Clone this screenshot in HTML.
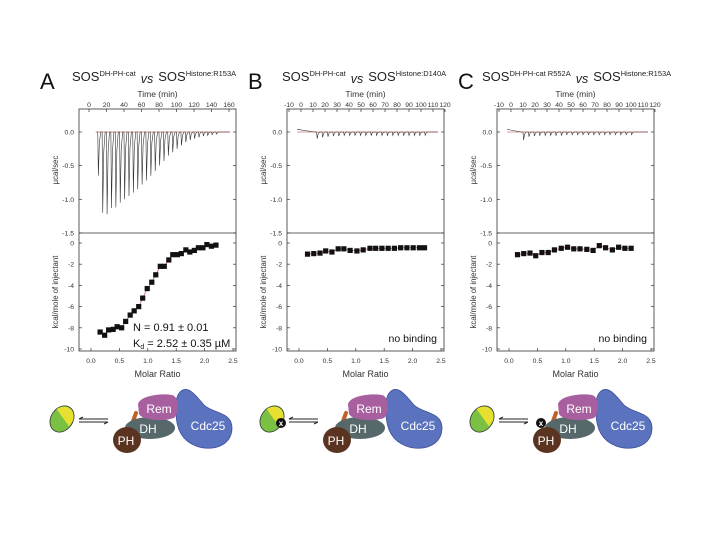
<!DOCTYPE html>
<html><head><meta charset="utf-8"><style>
body{margin:0;background:#fff}
svg{display:block;font-family:"Liberation Sans",sans-serif}
</style></head><body>
<svg id="fig" width="720" height="540" viewBox="0 0 720 540"></svg>
<script>
// ---- data ----
const rawTimesA=[10,15,20,25,30,35,40,45,50,55,60,65,70,75,80,85,90,95,100,105,110,115,120,125,130,135,140,145];
const rawPeaksA=[-0.65,-1.2,-1.22,-1.13,-1.12,-1.05,-1.0,-0.95,-0.9,-0.85,-0.78,-0.72,-0.65,-0.58,-0.5,-0.43,-0.35,-0.3,-0.25,-0.2,-0.15,-0.12,-0.1,-0.08,-0.06,-0.05,-0.04,-0.03];
const rawTimesB=[13,17.5,22,26.5,31,35.5,40,44.5,49,53.5,58,62.5,67,71.5,76,80.5,85,89.5,94,98.5,103];
const rawPeaksB=[-0.1,-0.08,-0.07,-0.06,-0.06,-0.05,-0.05,-0.05,-0.05,-0.05,-0.05,-0.05,-0.05,-0.05,-0.05,-0.05,-0.05,-0.05,-0.05,-0.05,-0.05];
const rawTimesC=[10,14.5,19,23.5,28,32.5,37,41.5,46,50.5,55,59.5,64,68.5,73,77.5,82,86.5,91,95.5,100];
const rawPeaksC=[-0.12,-0.07,-0.06,-0.05,-0.05,-0.05,-0.05,-0.05,-0.04,-0.04,-0.04,-0.04,-0.04,-0.04,-0.04,-0.04,-0.04,-0.04,-0.04,-0.04,-0.04];
const molarA=[0.16,0.24,0.31,0.39,0.46,0.54,0.61,0.69,0.76,0.84,0.91,0.99,1.07,1.14,1.22,1.29,1.37,1.44,1.52,1.59,1.67,1.74,1.82,1.89,1.97,2.04,2.12,2.2];
const heatA=[-8.4,-8.7,-8.2,-8.15,-7.9,-8.0,-7.4,-6.8,-6.4,-6.0,-5.2,-4.3,-3.7,-3.0,-2.2,-2.2,-1.6,-1.1,-1.1,-1.0,-0.65,-0.85,-0.7,-0.45,-0.45,-0.15,-0.3,-0.2];
const molarB=[0.15,0.26,0.37,0.47,0.58,0.69,0.79,0.90,1.02,1.13,1.25,1.35,1.46,1.57,1.68,1.79,1.90,2.01,2.12,2.21];
const heatB=[-1.05,-1.0,-0.95,-0.75,-0.85,-0.55,-0.55,-0.7,-0.75,-0.65,-0.5,-0.5,-0.5,-0.5,-0.5,-0.45,-0.45,-0.45,-0.45,-0.45];
const molarC=[0.15,0.26,0.37,0.47,0.58,0.69,0.80,0.92,1.03,1.14,1.25,1.37,1.48,1.59,1.70,1.82,1.93,2.04,2.15];
const heatC=[-1.1,-1.0,-0.95,-1.2,-0.9,-0.9,-0.65,-0.5,-0.4,-0.55,-0.55,-0.6,-0.7,-0.25,-0.45,-0.65,-0.4,-0.5,-0.5];
const timeTicksA=[0,20,40,60,80,100,120,140,160];
const timeTicksBC=[-10,0,10,20,30,40,50,60,70,80,90,100,110,120];
const rawTicks=[0.0,-0.5,-1.0,-1.5];
const heatTicks=[0,-2,-4,-6,-8,-10];
const molarTicks=[0.0,0.5,1.0,1.5,2.0,2.5];

const NS="http://www.w3.org/2000/svg";
const svg=document.getElementById('fig');
function mk(tag,attrs,parent,text){const e=document.createElementNS(NS,tag);for(const k in attrs)e.setAttribute(k,attrs[k]);if(text!==undefined)e.textContent=text;(parent||svg).appendChild(e);return e;}

function panel(ox,key,times,peaks,molar,heat,tTicks,tx){
  const g=mk('g',{});
  
  
  const L=79+ox,R=236+ox,T=109,M=233,B=351;
  const yRaw=v=>132-v*67.3;
  const yH=v=>243+(-v)*10.6;
  const xM=m=>91+ox+m*56.8;
  const fr=mk('rect',{x:L,y:T,width:R-L,height:B-T,fill:'none',stroke:'#333','stroke-width':0.8},g);
  
  
  const dv=mk('line',{x1:L,x2:R,y1:M,y2:M,stroke:'#333','stroke-width':0.8},g);
  
  
  tTicks.forEach(t=>{const x=tx(t)+ox;
    mk('line',{x1:x,x2:x,y1:T,y2:T+3,stroke:'#333','stroke-width':0.7},g);
    const l=mk('text',{x:x,y:107,'font-size':6.8,'text-anchor':'middle',fill:'#333'},g,t);
    
    
  });
  const tt=mk('text',{x:(L+R)/2,y:97,'font-size':8.5,'text-anchor':'middle',fill:'#333'},g,'Time (min)');
  
  
  rawTicks.forEach(v=>{const y=yRaw(v);
    mk('line',{x1:L,x2:L+3,y1:y,y2:y,stroke:'#333','stroke-width':0.7},g);
    mk('line',{x1:R,x2:R-3,y1:y,y2:y,stroke:'#333','stroke-width':0.7},g);
    const l=mk('text',{x:L-5,y:y+2.5,'font-size':6.8,'text-anchor':'end',fill:'#333'},g,v.toFixed(1));
    
    
  });
  heatTicks.forEach(v=>{const y=yH(v);
    mk('line',{x1:L,x2:L+3,y1:y,y2:y,stroke:'#333','stroke-width':0.7},g);
    mk('line',{x1:R,x2:R-3,y1:y,y2:y,stroke:'#333','stroke-width':0.7},g);
    const l=mk('text',{x:L-5,y:y+2.5,'font-size':6.8,'text-anchor':'end',fill:'#333'},g,v);
    
    
  });
  molarTicks.forEach(m=>{const x=xM(m);
    mk('line',{x1:x,x2:x,y1:B,y2:B-3,stroke:'#333','stroke-width':0.7},g);
    const l=mk('text',{x:x,y:363,'font-size':6.8,'text-anchor':'middle',fill:'#333'},g,m.toFixed(1));
    
    
  });
  const mt=mk('text',{x:(L+R)/2,y:377,'font-size':9,'text-anchor':'middle',fill:'#333'},g,'Molar Ratio');
  
  
  const y1=mk('text',{transform:`translate(${L-21},170) rotate(-90)`,'font-size':7.8,'text-anchor':'middle',fill:'#333'},g,'µcal/sec');
  
  
  const y2=mk('text',{transform:`translate(${L-21},292) rotate(-90)`,'font-size':7.8,'text-anchor':'middle',fill:'#333'},g,'kcal/mole of injectant');
  
  
  const x0=tx(tTicks[0])+ox+8;
  let d=`M${x0} ${yRaw(key==='a'?0:0.04)} L${tx(times[0])+ox-2} ${yRaw(0)}`;
  times.forEach((t,i)=>{const x=tx(t)+ox;
    d+=` L${x} ${yRaw(0)} L${x+0.6} ${yRaw(peaks[i])} L${x+1.6} ${yRaw(peaks[i]*0.25)} L${x+3} ${yRaw(0)}`;});
  d+=` L${R-6} ${yRaw(0)}`;
  const base=mk('line',{x1:x0,x2:R-6,y1:yRaw(0),y2:yRaw(0),stroke:'#c77','stroke-width':0.8},g);
  
  
  const tr=mk('path',{d:d,fill:'none',stroke:'#333','stroke-width':0.6},g);
  
  
  let fd='';molar.forEach((m,i)=>{fd+=(i?' L':'M')+xM(m)+' '+yH(heat[i]);});
  const fl=mk('path',{d:fd,fill:'none',stroke:'#c66','stroke-width':0.8},g);
  
  
  molar.forEach((m,i)=>{
    const s=mk('rect',{x:xM(m)-2.6,y:yH(heat[i])-2.6,width:5.2,height:5.2,fill:'#111'},g);
    
    
  });
  return g;
}
panel(0,'a',rawTimesA,rawPeaksA,molarA,heatA,timeTicksA,t=>89+t*0.875);
panel(208,'b',rawTimesB,rawPeaksB,molarB,heatB,timeTicksBC,t=>81+(t+10)*1.2);
panel(418,'c',rawTimesC,rawPeaksC,molarC,heatC,timeTicksBC,t=>81+(t+10)*1.2);
</script>
<script>
(function(){
const NS="http://www.w3.org/2000/svg";const svg=document.getElementById('fig');
function mk(tag,attrs,parent,text){const e=document.createElementNS(NS,tag);for(const k in attrs)e.setAttribute(k,attrs[k]);if(text!==undefined)e.textContent=text;(parent||svg).appendChild(e);return e;}
function title(x,letter,lx,sup1,sup2,name,fs){
  const l=mk('text',{x:lx,y:89,'font-size':22,fill:'#111'},null,letter);
  
  
  const t=mk('text',{x:x,y:81,'font-size':fs,fill:'#222'});
  
  
  mk('tspan',{},t,'SOS');
  mk('tspan',{'font-size':7.5,dy:-5},t,sup1);
  mk('tspan',{dy:7,'font-style':'italic','font-size':12.5,dx:5},t,'vs');
  mk('tspan',{dy:-2,dx:5},t,'SOS');
  mk('tspan',{'font-size':7.5,dy:-5},t,sup2);
}
title(72,'A',40,'DH-PH-cat','Histone:R153A','title-a',13);
title(282,'B',248,'DH-PH-cat','Histone:D140A','title-b',13);
title(482,'C',458,'DH-PH-cat R552A','Histone:R153A','title-c',13);
const n1=mk('text',{x:133,y:331,'font-size':11,fill:'#111'},null,'N = 0.91 ± 0.01');


const k=mk('text',{x:133,y:347,'font-size':11,fill:'#111'});


mk('tspan',{},k,'K');mk('tspan',{'font-size':7,dy:2},k,'d');mk('tspan',{dy:-2},k,' = 2.52 ± 0.35 µM');
[[437,'no-binding-b'],[647,'no-binding-c']].forEach(([x,n])=>{
  const e=mk('text',{x:x,y:342,'font-size':10.5,'text-anchor':'end',fill:'#111'},null,'no binding');
  
  
});
function diagram(ox,key,xPos){
  const g=mk('g',{transform:`translate(${ox},0)`});
  
  
  const hist=mk('g',{transform:'translate(62,419) rotate(35)'},g);
  
  
  mk('ellipse',{cx:0,cy:0,rx:11,ry:14,fill:'#7ac143',stroke:'#333','stroke-width':0.8},hist);
  mk('path',{d:'M-10 -5 A11 14 0 0 1 10 -5 L10 2 Z',fill:'#e8e030'},hist);
  mk('line',{x1:79,x2:108,y1:419,y2:419,stroke:'#222','stroke-width':1},g);
  mk('line',{x1:79,x2:108,y1:422,y2:422,stroke:'#222','stroke-width':1},g);
  mk('path',{d:'M79 419 l4 -2',stroke:'#222','stroke-width':1},g);
  mk('path',{d:'M108 422 l-4 2',stroke:'#222','stroke-width':1},g);
  const cdc=mk('path',{d:'M180 392 C188 384 196 396 204 405 C214 414 232 412 232 428 C232 446 212 452 196 446 C180 440 176 426 176 412 C176 402 176 396 180 392 Z',fill:'#5b73bf',stroke:'#3b4f99','stroke-width':0.8},g);
  
  
  mk('text',{x:208,y:430,'font-size':12,fill:'#fff','text-anchor':'middle'},g,'Cdc25');
  mk('line',{x1:129,x2:136,y1:432,y2:413,stroke:'#c0602a','stroke-width':4,'stroke-linecap':'round'},g);
  const dh=mk('ellipse',{cx:150,cy:428,rx:25,ry:11,fill:'#56686a'},g);
  
  
  mk('text',{x:148,y:433,'font-size':12,fill:'#fff','text-anchor':'middle'},g,'DH');
  const rem=mk('path',{d:'M138 404 C140 396 160 393 172 395 C180 397 179 414 174 418 C162 422 142 420 139 414 Z',fill:'#a75fa0'},g);
  
  
  mk('text',{x:159,y:413,'font-size':12,fill:'#fff','text-anchor':'middle'},g,'Rem');
  const ph=mk('ellipse',{cx:127,cy:440,rx:14,ry:13,fill:'#5a3420'},g);
  
  
  mk('text',{x:126,y:445,'font-size':12,fill:'#fff','text-anchor':'middle'},g,'PH');
  if(xPos){
    const m=mk('circle',{cx:xPos[0],cy:xPos[1],r:5,fill:'#111'},g);
    
    
    mk('text',{x:xPos[0],y:xPos[1]+3,'font-size':8,'font-weight':'bold',fill:'#fff','text-anchor':'middle'},g,'x');
  }
}
diagram(0,'a',null);
diagram(210,'b',[71,423]);
diagram(420,'c',[121,423]);
})();
</script>
</body></html>
